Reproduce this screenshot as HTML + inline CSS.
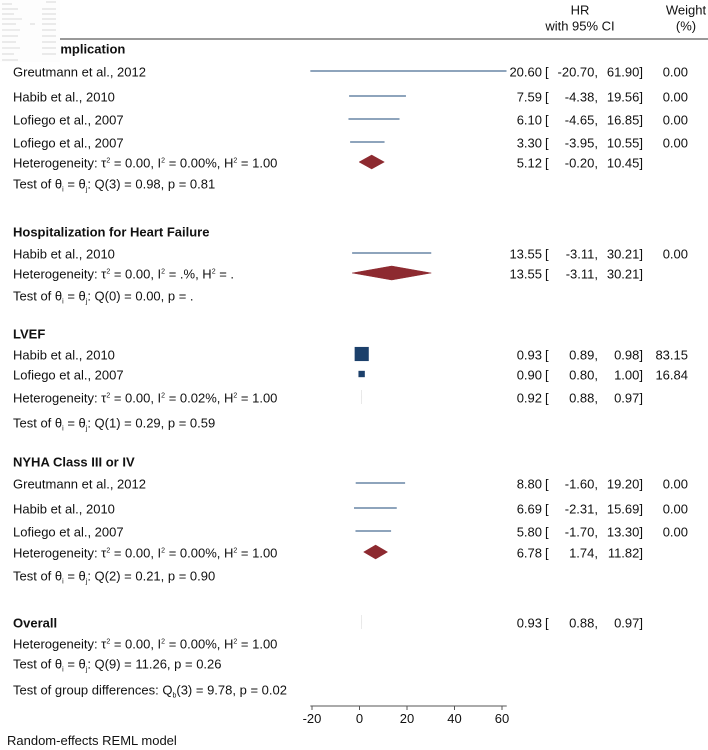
<!DOCTYPE html>
<html><head><meta charset="utf-8"><style>
html,body{margin:0;padding:0;background:#fff;}
svg{display:block;font-family:"Liberation Sans",sans-serif;font-size:13px;fill:#111;}
.b{font-weight:bold;}
</style></head><body>
<svg id="chart" width="708" height="750" viewBox="0 0 708 750" xmlns="http://www.w3.org/2000/svg">
<rect width="708" height="750" fill="#fff"/>
<line x1="60" y1="39" x2="708" y2="39" stroke="#333" stroke-width="1"/>
<text x="580" y="10" text-anchor="middle" dominant-baseline="central">HR</text>
<text x="580" y="26" text-anchor="middle" dominant-baseline="central">with 95% CI</text>
<text x="686" y="10" text-anchor="middle" dominant-baseline="central">Weight</text>
<text x="686" y="26" text-anchor="middle" dominant-baseline="central">(%)</text>
<g id="rows"></g>
<g id="axis"></g>
<text x="7" y="745">Random-effects REML model</text>
<g id="thumb">
<rect x="0" y="0" width="60" height="62" fill="#fdfdfd"/>
<g stroke="#cfcfcf" stroke-width="0.8">
<line x1="2" y1="4" x2="12" y2="4"/><line x1="46" y1="2" x2="56" y2="2"/>
<line x1="2" y1="9" x2="18" y2="9"/><line x1="42" y1="9" x2="56" y2="9"/>
<line x1="2" y1="14" x2="14" y2="14"/><line x1="42" y1="14" x2="56" y2="14"/>
<line x1="2" y1="19" x2="22" y2="19"/><line x1="42" y1="19" x2="56" y2="19"/>
<line x1="2" y1="24" x2="16" y2="24"/><line x1="30" y1="24" x2="35" y2="24"/><line x1="42" y1="24" x2="56" y2="24"/>
<line x1="2" y1="30" x2="20" y2="30"/><line x1="42" y1="30" x2="56" y2="30"/>
<line x1="2" y1="36" x2="18" y2="36"/><line x1="42" y1="36" x2="56" y2="36"/>
<line x1="2" y1="42" x2="16" y2="42"/><line x1="42" y1="42" x2="56" y2="42"/>
<line x1="2" y1="48" x2="20" y2="48"/><line x1="42" y1="48" x2="56" y2="48"/>
<line x1="2" y1="54" x2="14" y2="54"/><line x1="42" y1="54" x2="56" y2="54"/>
<line x1="2" y1="60" x2="18" y2="60"/>
</g>
</g>
</svg>
<script>
const rowY = [49,72,97,120,143,163,184,232,254,274,296,334,355,375,398,423,462,484,509,532,553,576,623,644,664,690];
const rowKind = ['head','study','study','study','study','diamond','text','head','study','diamond','text','head','study','study','diamond','text','head','study','study','study','diamond','text','overall','text','text','text'];
const rowLabel = ['Complication','Greutmann et al., 2012','Habib et al., 2010','Lofiego et al., 2007','Lofiego et al., 2007',
'Heterogeneity: τ² = 0.00, I² = 0.00%, H² = 1.00','Test of θᵢ = θⱼ: Q(3) = 0.98, p = 0.81',
'Hospitalization for Heart Failure','Habib et al., 2010','Heterogeneity: τ² = 0.00, I² = .%, H² = .','Test of θᵢ = θⱼ: Q(0) = 0.00, p = .',
'LVEF','Habib et al., 2010','Lofiego et al., 2007','Heterogeneity: τ² = 0.00, I² = 0.02%, H² = 1.00','Test of θᵢ = θⱼ: Q(1) = 0.29, p = 0.59',
'NYHA Class III or IV','Greutmann et al., 2012','Habib et al., 2010','Lofiego et al., 2007','Heterogeneity: τ² = 0.00, I² = 0.00%, H² = 1.00','Test of θᵢ = θⱼ: Q(2) = 0.21, p = 0.90',
'Overall','Heterogeneity: τ² = 0.00, I² = 0.00%, H² = 1.00','Test of θᵢ = θⱼ: Q(9) = 11.26, p = 0.26','Test of group differences: Q_b(3) = 9.78, p = 0.02'];
const hr =   [null,20.60,7.59,6.10,3.30,5.12,null,null,13.55,13.55,null,null,0.93,0.90,0.92,null,null,8.80,6.69,5.80,6.78,null,0.93,null,null,null];
const lo =   [null,-20.70,-4.38,-4.65,-3.95,-0.20,null,null,-3.11,-3.11,null,null,0.89,0.80,0.88,null,null,-1.60,-2.31,-1.70,1.74,null,0.88,null,null,null];
const hi =   [null,61.90,19.56,16.85,10.55,10.45,null,null,30.21,30.21,null,null,0.98,1.00,0.97,null,null,19.20,15.69,13.30,11.82,null,0.97,null,null,null];
const weight=[null,0.00,0.00,0.00,0.00,null,null,null,0.00,null,null,null,83.15,16.84,null,null,null,0.00,0.00,0.00,null,null,null,null,null,null];
const ticks = [-20,0,20,40,60];

const NS='http://www.w3.org/2000/svg';
const X = v => 359.5 + v*2.375;
const g = document.getElementById('rows');
function mk(tag, attrs, parent){const e=document.createElementNS(NS,tag);for(const k in attrs)e.setAttribute(k,attrs[k]);(parent||g).appendChild(e);return e;}
function fmt(v){return v.toFixed(2);}
function labelText(el, s){
  const parts = s.split(/(²|ᵢ|ⱼ|_b)/);
  parts.forEach(p=>{
    if(!p) return;
    const t=document.createElementNS(NS,'tspan');
    if(p==='²'){t.textContent='2';t.setAttribute('baseline-shift','5');t.setAttribute('font-size','7');}
    else if(p==='ᵢ'||p==='ⱼ'||p==='_b'){t.textContent=p==='ᵢ'?'i':(p==='ⱼ'?'j':'b');t.setAttribute('baseline-shift','-3');t.setAttribute('font-size','7');}
    else t.textContent=p;
    el.appendChild(t);
  });
}
rowY.forEach((y,i)=>{
  const kind=rowKind[i];
  const t=mk('text',{x:(i===0?43:13),y:y+4.5});
  
  
  if(kind==='head'||kind==='overall') t.setAttribute('class','b');
  labelText(t,rowLabel[i]);
  if(hr[i]!==null){
    const a=mk('text',{x:542,y:y+4.5,'text-anchor':'end'});
    
    
    a.textContent=fmt(hr[i]);
    const br=mk('text',{x:545,y:y+4.5});
    
    
    br.textContent='[';
    const l=mk('text',{x:598,y:y+4.5,'text-anchor':'end'});
    
    
    l.textContent=fmt(lo[i])+',';
    const h=mk('text',{x:643,y:y+4.5,'text-anchor':'end'});
    
    
    h.textContent=fmt(hi[i])+']';
  }
  if(weight[i]!==null){
    const w=mk('text',{x:688,y:y+4.5,'text-anchor':'end'});
    
    
    w.textContent=fmt(weight[i]);
  }
  if(kind==='study'){
    const ln=mk('line',{x1:X(lo[i]),x2:X(hi[i]),y1:y-1,y2:y-1,stroke:'#4a6e94','stroke-width':1.3});
    
    
    if(weight[i]>0){
      const s=1.55*Math.sqrt(weight[i]);
      const sq=mk('rect',{x:X(hr[i])-s/2,y:y-1-s/2,width:s,height:s,fill:'#1c406b'});
      
      
    }
  } else if(kind==='diamond'||kind==='overall'){
    const yy=y-1, hh=7;
    const pts=[[X(lo[i]),yy],[X(hr[i]),yy-hh],[X(hi[i]),yy],[X(hr[i]),yy+hh]].map(p=>p.join(',')).join(' ');
    const d=mk('polygon',{points:pts,fill:'#8d2a30',stroke:'#8d2a30','stroke-width':0.5});
    
    
    if(X(hi[i])-X(lo[i])<2){d.setAttribute('fill','#ddd');d.setAttribute('stroke','#ddd');}
  }
});
const ax=document.getElementById('axis');
const al=mk('line',{x1:X(-20.7),x2:X(62),y1:706,y2:706,stroke:'#555','stroke-width':1},ax);


ticks.forEach(v=>{
  const tk=mk('line',{x1:X(v),x2:X(v),y1:706,y2:710,stroke:'#555'},ax);
  
  
  const tl=mk('text',{x:X(v),y:723,'text-anchor':'middle'},ax);
  
  
  tl.textContent=String(v);
});
</script>
</body></html>
